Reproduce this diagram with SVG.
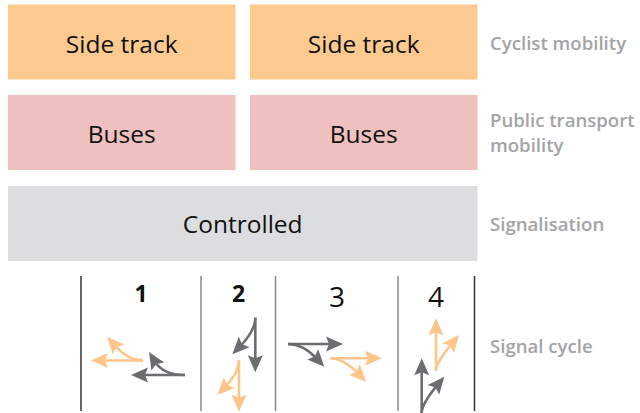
<svg xmlns="http://www.w3.org/2000/svg" width="640" height="413" viewBox="0 0 640 413">
<defs>
<style>
.box-o{fill:#FCC98F}
.box-p{fill:#EFC0C0}
.box-g{fill:#DCDDDF}
.t{font-family:"Open Sans","Noto Sans","Liberation Sans",sans-serif;font-size:24.5px;fill:#111;text-anchor:middle}
.lab{font-family:"Open Sans","Noto Sans","Liberation Sans",sans-serif;font-size:18.6px;font-weight:600;fill:#A3A4A6}
.num{font-family:"Open Sans","Noto Sans","Liberation Sans",sans-serif;fill:#111;text-anchor:middle}
.sep-d{stroke:#333;stroke-width:1.5}
.sep-l{stroke:#8A8A8A;stroke-width:1.5}
.ao{fill:none;stroke:#FDC58A;stroke-width:2.6;marker-end:url(#ho)}
.ag{fill:none;stroke:#6C6D70;stroke-width:2.6;marker-end:url(#hg)}
</style>
<marker id="ho" markerUnits="userSpaceOnUse" viewBox="-7 -9 20 18" markerWidth="20" markerHeight="18" refX="0" refY="0" orient="auto">
<path d="M11,0 L-6,-7.5 L-3,0 L-6,7.5 Z" fill="#FDC58A"/>
</marker>
<marker id="hg" markerUnits="userSpaceOnUse" viewBox="-7 -9 20 18" markerWidth="20" markerHeight="18" refX="0" refY="0" orient="auto">
<path d="M11,0 L-6,-7.5 L-3,0 L-6,7.5 Z" fill="#6C6D70"/>
</marker>
</defs>

<g id="side-track-1"><rect class="box-o" x="8" y="4.5" width="227.5" height="75"/><text class="t" x="121.7" y="53">Side track</text></g>
<g id="side-track-2"><rect class="box-o" x="250" y="4.5" width="227.5" height="75"/><text class="t" x="363.7" y="53">Side track</text></g>
<g id="buses-1"><rect class="box-p" x="8" y="95" width="227.5" height="75"/><text class="t" x="121.7" y="143">Buses</text></g>
<g id="buses-2"><rect class="box-p" x="250" y="95" width="227.5" height="75"/><text class="t" x="363.7" y="143">Buses</text></g>
<g id="controlled"><rect class="box-g" x="8" y="186" width="469.5" height="75"/><text class="t" x="242.7" y="233">Controlled</text></g>

<g id="labels">
<text class="lab" x="490" y="50">Cyclist mobility</text>
<text class="lab" x="490" y="127">Public transport</text>
<text class="lab" x="490" y="152">mobility</text>
<text class="lab" x="490" y="231">Signalisation</text>
<text class="lab" x="490" y="353">Signal cycle</text>
</g>

<g id="signal-cycle">
<line class="sep-d" x1="81" y1="276" x2="81" y2="411"/>
<line class="sep-l" x1="201" y1="276" x2="201" y2="411"/>
<line class="sep-l" x1="275.5" y1="276" x2="275.5" y2="411"/>
<line class="sep-l" x1="398" y1="276" x2="398" y2="411"/>
<line class="sep-d" x1="474.5" y1="276" x2="474.5" y2="411"/>
<text class="num" x="141" y="302" font-size="23" font-weight="700">1</text>
<text class="num" x="238.5" y="302" font-size="23" font-weight="700">2</text>
<text class="num" x="337" y="307" font-size="28">3</text>
<text class="num" x="436" y="307" font-size="28">4</text>
</g>

<g id="connectors">
<path class="ao" d="M143,360.5 L102,360.5"/>
<path class="ao" d="M143,360.5 Q128,360.5 114.5,345"/>
<path class="ag" d="M185,375 L142,375"/>
<path class="ag" d="M185,375 Q163,375 154.7,361.4"/>
<path class="ag" d="M255.3,317.7 L255.3,361.3"/>
<path class="ag" d="M255.3,317.7 Q255.3,330.6 240,346.4"/>
<path class="ao" d="M239,360 L239,400.7"/>
<path class="ao" d="M239,360 Q239,372.7 225,387.1"/>
<path class="ag" d="M288,344 L332,344"/>
<path class="ag" d="M288,344 Q303.1,344 316.8,358.7"/>
<path class="ao" d="M330.3,358.3 L371,358.3"/>
<path class="ao" d="M330.3,358.3 Q343.2,358.3 358.6,373.9"/>
<path class="ao" d="M436,370.7 L436,329.3"/>
<path class="ao" d="M436,370.7 Q436,362.7 452,343.5"/>
<path class="ag" d="M421.7,413 L421.7,369.3"/>
<path class="ag" d="M421.7,413 Q421.7,404 437.3,385.2"/>
</g>
</svg>
